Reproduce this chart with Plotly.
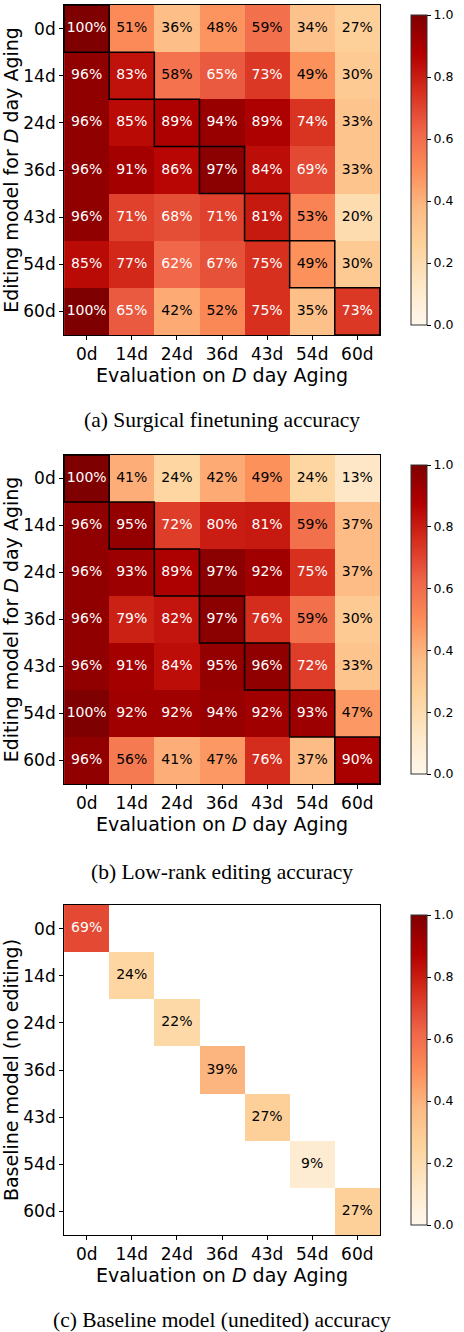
import plotly.graph_objects as go

days = ["0d", "14d", "24d", "36d", "43d", "54d", "60d"]

surgical_pct = [
    [100, 51, 36, 48, 59, 34, 27],
    [96, 83, 58, 65, 73, 49, 30],
    [96, 85, 89, 94, 89, 74, 33],
    [96, 91, 86, 97, 84, 69, 33],
    [96, 71, 68, 71, 81, 53, 20],
    [85, 77, 62, 67, 75, 49, 30],
    [100, 65, 42, 52, 75, 35, 73],
]
lowrank_pct = [
    [100, 41, 24, 42, 49, 24, 13],
    [96, 95, 72, 80, 81, 59, 37],
    [96, 93, 89, 97, 92, 75, 37],
    [96, 79, 82, 97, 76, 59, 30],
    [96, 91, 84, 95, 96, 72, 33],
    [100, 92, 92, 94, 92, 93, 47],
    [96, 56, 41, 47, 76, 37, 90],
]
baseline_diag_pct = [69, 24, 22, 39, 27, 9, 27]

captions = [
    "(a) Surgical finetuning accuracy",
    "(b) Low-rank editing accuracy",
    "(c) Baseline model (unedited) accuracy",
]
ytitles = [
    "Editing model for <i>D</i> day Aging",
    "Editing model for <i>D</i> day Aging",
    "Baseline model (no editing)",
]
xtitle = "Evaluation on <i>D</i> day Aging"

W, H = 464, 1332
panels_px = [(5, 335), (455, 784), (905, 1235)]
caption_px = [420, 872, 1320]
x_left, x_right = 67, 397
cb_left = 419

baseline = [[(baseline_diag_pct[i] if i == j else None) for j in range(7)] for i in range(7)]
mats = [surgical_pct, lowrank_pct, baseline]
boxes = [True, True, False]

fig = go.Figure()
sans = "DejaVu Sans"

for k, m in enumerate(mats):
    top, bot = panels_px[k]
    ydom = [1 - bot / H, 1 - top / H]
    xa = "x" if k == 0 else f"x{k+1}"
    ya = "y" if k == 0 else f"y{k+1}"
    z = [[(v / 100 if v is not None else None) for v in row] for row in m]
    fig.add_trace(go.Heatmap(
        z=z, x=days, y=days, xaxis=xa, yaxis=ya,
        colorscale="OrRd", zmin=0, zmax=1, hoverinfo="skip",
        colorbar=dict(
            x=cb_left / W, xanchor="left", y=(ydom[0] + ydom[1]) / 2, yanchor="middle",
            len=(bot - top) / H, lenmode="fraction", thickness=16,
            outlinewidth=1, outlinecolor="#333333",
            tickvals=[0, 0.2, 0.4, 0.6, 0.8, 1.0], ticktext=["0.0", "0.2", "0.4", "0.6", "0.8", "1.0"],
            ticks="outside", ticklen=4, tickcolor="black",
            tickfont=dict(family=sans, size=12.5, color="black"),
        ),
    ))
    tx, ty, tt, tc = [], [], [], []
    for i in range(7):
        for j in range(7):
            v = m[i][j]
            if v is None:
                continue
            tx.append(days[j]); ty.append(days[i]); tt.append(f"{v}%")
            tc.append("white" if v >= 60 else "black")
    fig.add_trace(go.Scatter(
        x=tx, y=ty, text=tt, mode="text", xaxis=xa, yaxis=ya,
        textfont=dict(family=sans, size=14, color=tc), hoverinfo="skip", showlegend=False,
    ))
    if boxes[k]:
        for i in range(7):
            fig.add_shape(type="rect", xref=xa, yref=ya, x0=i - 0.5, x1=i + 0.5,
                          y0=i - 0.5, y1=i + 0.5, line=dict(color="black", width=1.5))
    axcommon = dict(showline=True, linecolor="black", linewidth=1, mirror=True,
                    ticks="outside", ticklen=4, tickcolor="black",
                    tickfont=dict(family=sans, size=17, color="black"),
                    showgrid=False, zeroline=False, automargin=False)
    xkey = "xaxis" if k == 0 else f"xaxis{k+1}"
    ykey = "yaxis" if k == 0 else f"yaxis{k+1}"
    fig.update_layout({
        xkey: dict(domain=[x_left / W, x_right / W], anchor=ya, range=[-0.5, 6.5],
                   title=dict(text=xtitle, font=dict(family=sans, size=19, color="black"), standoff=2),
                   **axcommon),
        ykey: dict(domain=ydom, anchor=xa, range=[6.5, -0.5],
                   title=dict(text=ytitles[k], font=dict(family=sans, size=19, color="black"), standoff=4),
                   **axcommon),
    })
    fig.add_annotation(text=captions[k], xref="paper", yref="paper", x=232 / W, y=1 - caption_px[k] / H,
                       xanchor="center", yanchor="middle", showarrow=False,
                       font=dict(family="Liberation Serif", size=21.5, color="black"))

fig.update_layout(width=W, height=H, margin=dict(l=0, r=0, t=0, b=0),
                  paper_bgcolor="white", plot_bgcolor="white", showlegend=False)
fig.write_html("out.html", config={"displayModeBar": False},
               post_script="document.body.style.margin='0';document.body.style.overflow='hidden';")
